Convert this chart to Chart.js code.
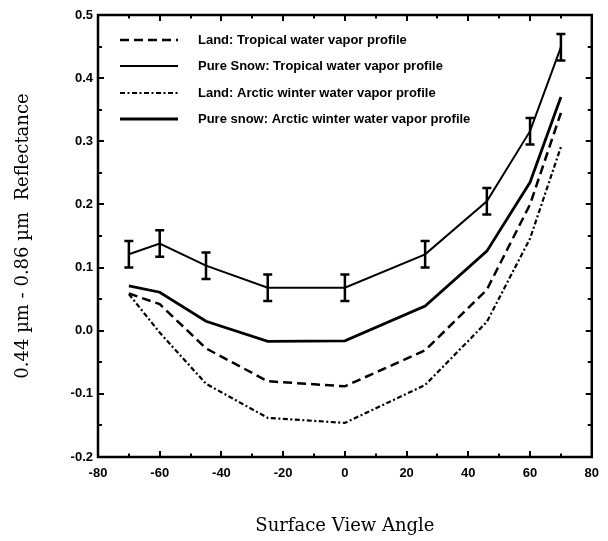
<!DOCTYPE html>
<html>
<head>
<meta charset="utf-8">
<script src="https://cdn.jsdelivr.net/npm/chart.js@4.4.1/dist/chart.umd.min.js"></script>
<style>
  html, body { margin: 0; background: #fff; }
  #wrap { width: 608px; height: 541px; }
</style>
</head>
<body>
<div id="wrap"><canvas id="chart"></canvas></div>
<script>
// View angles (deg) and reflectance for each case
const angles = [-70, -60, -45, -25, 0, 26, 46, 60, 70];
const landTropical = [0.059, 0.042, -0.028, -0.080, -0.088, -0.031, 0.065, 0.200, 0.345];
const snowTropical = [0.121, 0.138, 0.103, 0.068, 0.068, 0.121, 0.205, 0.316, 0.449];
const snowTropicalErr = [0.021, 0.021, 0.021, 0.021, 0.021, 0.021, 0.021, 0.021, 0.021];
const landArctic = [0.058, -0.003, -0.084, -0.138, -0.146, -0.086, 0.014, 0.146, 0.291];
const snowArctic = [0.071, 0.061, 0.015, -0.017, -0.016, 0.039, 0.126, 0.235, 0.370];

const seriesNames = [
  'Land: Tropical water vapor profile',
  'Pure Snow: Tropical water vapor profile',
  'Land: Arctic winter water vapor profile',
  'Pure snow: Arctic winter water vapor profile'
];

const xAxis = { min: -80, max: 80, step: 20, minor: 10 };
const yAxis = { min: -0.2, max: 0.5, step: 0.1, minor: 0.05 };

const pts = (ys) => angles.map((a, i) => ({ x: a, y: ys[i] }));

// Frame and inward tick marks on all four sides
const frameTicks = {
  id: 'frameTicks',
  afterDraw(chart) {
    const { ctx, chartArea: a, scales: { x, y } } = chart;
    ctx.save();
    ctx.strokeStyle = '#000';
    ctx.lineWidth = 2.5;
    ctx.strokeRect(a.left, a.top, a.right - a.left, a.bottom - a.top);
    ctx.lineWidth = 2;
    ctx.beginPath();
    for (let v = xAxis.min + xAxis.minor; v < xAxis.max; v += xAxis.minor) {
      const px = Math.round(x.getPixelForValue(v));
      const len = (v % xAxis.step === 0) ? 6 : 3.5;
      ctx.moveTo(px, a.bottom); ctx.lineTo(px, a.bottom - len);
      ctx.moveTo(px, a.top); ctx.lineTo(px, a.top + len);
    }
    const n = Math.round((yAxis.max - yAxis.min) / yAxis.minor);
    for (let k = 1; k < n; k++) {
      const py = Math.round(y.getPixelForValue(yAxis.min + k * yAxis.minor));
      const len = (k % 2 === 0) ? 6 : 4;
      ctx.moveTo(a.left, py); ctx.lineTo(a.left + len, py);
      ctx.moveTo(a.right, py); ctx.lineTo(a.right - len, py);
    }
    ctx.stroke();
    ctx.restore();
  }
};

// Vertical error bars with caps on the pure snow / tropical curve
const errorBars = {
  id: 'errorBars',
  afterDatasetsDraw(chart) {
    const { ctx, scales: { x, y } } = chart;
    ctx.save();
    ctx.strokeStyle = '#000';
    ctx.lineWidth = 2.5;
    ctx.beginPath();
    angles.forEach((a, i) => {
      const px = x.getPixelForValue(a);
      const hi = y.getPixelForValue(snowTropical[i] + snowTropicalErr[i]);
      const lo = y.getPixelForValue(snowTropical[i] - snowTropicalErr[i]);
      ctx.moveTo(px, hi); ctx.lineTo(px, lo);
      ctx.moveTo(px - 4.5, hi); ctx.lineTo(px + 4.5, hi);
      ctx.moveTo(px - 4.5, lo); ctx.lineTo(px + 4.5, lo);
    });
    ctx.stroke();
    ctx.restore();
  }
};

// Legend block inside the plot, top left
const insetLegend = {
  id: 'insetLegend',
  afterDraw(chart) {
    const { ctx } = chart;
    const rows = [40, 66, 93, 119];
    ctx.save();
    ctx.fillStyle = '#000';
    ctx.font = 'bold 13px "Liberation Sans", Arial, sans-serif';
    ctx.textBaseline = 'middle';
    chart.data.datasets.forEach((ds, i) => {
      const yy = rows[i];
      ctx.strokeStyle = '#000';
      ctx.lineWidth = ds.borderWidth;
      ctx.setLineDash(ds.borderDash || []);
      ctx.beginPath();
      ctx.moveTo(120, yy); ctx.lineTo(178, yy);
      ctx.stroke();
      ctx.setLineDash([]);
      ctx.fillText(ds.label, 198, yy);
    });
    ctx.restore();
  }
};

const tickFont = { family: '"Liberation Sans", Arial, sans-serif', weight: 'bold', size: 13 };

new Chart(document.getElementById('chart'), {
  type: 'line',
  data: {
    datasets: [
      { label: seriesNames[0], data: pts(landTropical), borderColor: '#000', borderWidth: 2.5, borderDash: [9, 5] },
      { label: seriesNames[1], data: pts(snowTropical), borderColor: '#000', borderWidth: 2 },
      { label: seriesNames[2], data: pts(landArctic), borderColor: '#000', borderWidth: 2.2, borderDash: [5, 2.5, 2, 2.5] },
      { label: seriesNames[3], data: pts(snowArctic), borderColor: '#000', borderWidth: 2.8 }
    ]
  },
  options: {
    responsive: true,
    maintainAspectRatio: false,
    animation: false,
    layout: { padding: { top: 15, right: 8, left: 0, bottom: 0 } },
    elements: { point: { radius: 0 }, line: { tension: 0, fill: false } },
    plugins: { legend: { display: false }, tooltip: { enabled: false } },
    scales: {
      x: {
        type: 'linear', min: xAxis.min, max: xAxis.max,
        grid: { display: false, drawTicks: false }, border: { display: false },
        ticks: { stepSize: xAxis.step, padding: 9, color: '#000', maxRotation: 0, font: tickFont },
        title: {
          display: true, text: 'Surface View Angle', color: '#000',
          font: { family: '"DejaVu Serif", serif', size: 18 },
          padding: { top: 0, bottom: 4 }
        },
        afterFit: (s) => { s.height = 541 - 457; }
      },
      y: {
        type: 'linear', min: yAxis.min, max: yAxis.max,
        grid: { display: false, drawTicks: false }, border: { display: false },
        ticks: {
          stepSize: yAxis.step, padding: 5, color: '#000', font: tickFont,
          callback: (v) => (Math.abs(v) < 1e-9 ? 0 : v).toFixed(1)
        },
        title: {
          display: true, text: '0.44 µm - 0.86 µm  Reflectance', color: '#000',
          font: { family: '"DejaVu Serif", serif', size: 18 },
          padding: { top: 13, bottom: 0 }
        },
        afterFit: (s) => { s.width = 98; }
      }
    }
  },
  plugins: [errorBars, frameTicks, insetLegend]
});
</script>
</body>
</html>
